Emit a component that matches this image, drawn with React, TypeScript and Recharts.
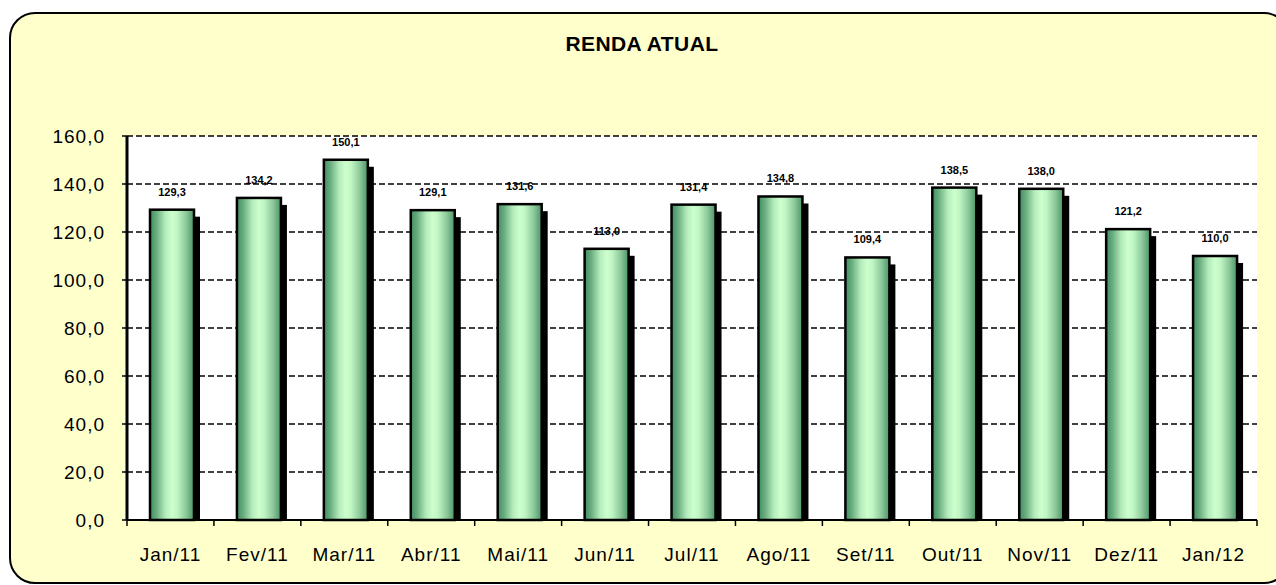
import React from 'react';
import { BarChart, Bar, XAxis, YAxis, CartesianGrid, LabelList } from 'recharts';

const months = ['Jan/11', 'Fev/11', 'Mar/11', 'Abr/11', 'Mai/11', 'Jun/11', 'Jul/11', 'Ago/11', 'Set/11', 'Out/11', 'Nov/11', 'Dez/11', 'Jan/12'];
const renda = [129.3, 134.2, 150.1, 129.1, 131.6, 113.0, 131.4, 134.8, 109.4, 138.5, 138.0, 121.2, 110.0];
const yTicks = [0, 20, 40, 60, 80, 100, 120, 140, 160];

const data = months.map((m, i) => ({ mes: m, valor: renda[i] }));

const fmt = (v: number) => v.toFixed(1).replace('.', ',');
const FONT = '"Liberation Sans", Arial, sans-serif';
const band = (1257 - 127) / months.length;
const SHIFT = 2;

const ShadowBar = (props: any) => {
  const { x, y, width, height } = props;
  if (!height) return null;
  const bx = x + SHIFT;
  return (
    <g>
      <rect x={bx + 6} y={y + 7} width={width} height={Math.max(0, height - 7)} fill="#000" />
      <rect x={bx} y={y} width={width} height={height} fill="url(#barGrad)" stroke="#000" strokeWidth={2.5} />
    </g>
  );
};

const XTick = (props: any) => {
  const { x, y, payload, index } = props;
  const axisY = y - 8;
  return (
    <g>
      <line x1={x - band / 2} y1={axisY} x2={x - band / 2} y2={axisY + 6} stroke="#000" strokeWidth={1.5} />
      {index === months.length - 1 && (
        <line x1={x + band / 2} y1={axisY} x2={x + band / 2} y2={axisY + 6} stroke="#000" strokeWidth={1.5} />
      )}
      <text x={x} y={axisY + 41} textAnchor="middle" fontSize={19} letterSpacing={1} fontFamily={FONT} fill="#000">
        {payload.value}
      </text>
    </g>
  );
};

const ValueLabel = (props: any) => {
  const { x, y, width, value } = props;
  return (
    <text x={x + SHIFT + width / 2} y={y - 14} textAnchor="middle" fontSize={11} fontWeight="bold" fontFamily={FONT} fill="#000">
      {fmt(value)}
    </text>
  );
};

export default function App() {
  return (
    <div style={{ position: 'absolute', left: 0, top: 0, width: 1276, height: 585, overflow: 'hidden', background: '#fff' }}>
      <div
        style={{
          position: 'absolute', left: 9, top: 12, width: 1281, height: 572,
          border: '2px solid #000', borderRadius: 26, background: '#FFFFCC', boxSizing: 'border-box',
        }}
      />
      <div
        style={{
          position: 'absolute', left: 0, width: 1284, top: 32, textAlign: 'center',
          fontFamily: FONT, fontWeight: 'bold', fontSize: 21, letterSpacing: 0.4, color: '#000',
        }}
      >
        RENDA ATUAL
      </div>
      <div style={{ position: 'absolute', left: 0, top: 0 }}>
        <BarChart width={1276} height={585} data={data} margin={{ top: 136, right: 19, bottom: 35, left: 0 }} barSize={44}>
          <defs>
            <linearGradient id="barGrad" x1="0" y1="0" x2="1" y2="0">
              <stop offset="0%" stopColor="#3f8d60" />
              <stop offset="15%" stopColor="#6aae80" />
              <stop offset="35%" stopColor="#b5ecbc" />
              <stop offset="50%" stopColor="#ccffcc" />
              <stop offset="62%" stopColor="#c0f5c4" />
              <stop offset="82%" stopColor="#8cc89a" />
              <stop offset="100%" stopColor="#4a9466" />
            </linearGradient>
          </defs>
          <CartesianGrid vertical={false} stroke="#000" strokeWidth={1.6} strokeDasharray="6 3" fill="#fff" fillOpacity={1} />
          <XAxis
            dataKey="mes"
            height={30}
            axisLine={{ stroke: '#000', strokeWidth: 2 }}
            tickLine={false}
            tickSize={6}
            tickMargin={2}
            interval={0}
            tick={<XTick />}
          />
          <YAxis
            width={127}
            domain={[0, 160]}
            ticks={yTicks}
            interval={0}
            tickFormatter={fmt}
            axisLine={{ stroke: '#000', strokeWidth: 3 }}
            tickLine={{ stroke: '#000', strokeWidth: 1.5 }}
            tickSize={5}
            tickMargin={17}
            tick={{ fill: '#000', fontSize: 19, letterSpacing: 1, fontFamily: FONT }}
          />
          <Bar dataKey="valor" shape={<ShadowBar />} isAnimationActive={false}>
            <LabelList dataKey="valor" content={<ValueLabel />} />
          </Bar>
        </BarChart>
      </div>
    </div>
  );
}
